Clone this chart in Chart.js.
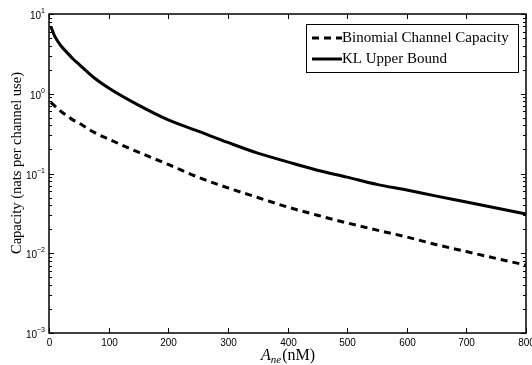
<!DOCTYPE html>
<html>
<head>
<meta charset="utf-8">
<script src="https://cdn.jsdelivr.net/npm/chart.js@4/dist/chart.umd.min.js"></script>
<style>
  html, body { margin: 0; padding: 0; background: #fff; }
  #wrap { width: 532px; height: 365px; }
</style>
</head>
<body>
<div id="wrap"><canvas id="capacity-chart" width="532" height="365"></canvas></div>
<script>
        // Concentration samples (nM)
        const aNe = [3, 10, 20, 30, 40, 50, 75, 100, 150, 200, 250, 300, 350, 400, 450, 500, 550, 600, 650, 700, 750, 800];

        // Capacity values (nats per channel use)
        const binomialCapacity = [0.78, 0.70, 0.60, 0.53, 0.47, 0.43, 0.33, 0.27, 0.185, 0.13, 0.09, 0.066, 0.050, 0.038, 0.030, 0.024, 0.0195, 0.016, 0.0128, 0.0105, 0.0086, 0.0071];
        const klUpperBound = [7.0, 5.2, 4.0, 3.3, 2.75, 2.35, 1.6, 1.18, 0.72, 0.47, 0.34, 0.245, 0.18, 0.14, 0.11, 0.09, 0.073, 0.062, 0.052, 0.044, 0.037, 0.031];

        // Axis ticks
        const xTicks = [0, 100, 200, 300, 400, 500, 600, 700, 800];
        const yExponents = [1, 0, -1, -2, -3];

        const seriesNames = ['Binomial Channel Capacity', 'KL Upper Bound'];

        const toPoints = (ys) => aNe.map((x, i) => ({ x: x, y: ys[i] }));

        const serif = '"Liberation Serif", "DejaVu Serif", serif';
        const sans = '"Liberation Sans", Arial, sans-serif';

        // Draws the boxed axes, inward ticks, labels and legend
        const matlabAxes = {
            id: 'matlabAxes',
            afterDatasetsDraw(chart) {
                const ctx = chart.ctx;
                const area = chart.chartArea;
                const xs = chart.scales.x;
                const ys = chart.scales.y;
                ctx.save();
                ctx.strokeStyle = '#000';
                ctx.fillStyle = '#000';

                // frame
                ctx.lineWidth = 1.5;
                ctx.strokeRect(area.left, area.top, area.right - area.left, area.bottom - area.top);
                ctx.lineWidth = 1;

                // x ticks, top and bottom
                ctx.font = '10px ' + sans;
                ctx.textAlign = 'center';
                ctx.textBaseline = 'top';
                xTicks.forEach(v => {
                    const px = Math.round(xs.getPixelForValue(v)) + 0.5;
                    ctx.beginPath();
                    ctx.moveTo(px, area.bottom);
                    ctx.lineTo(px, area.bottom - 5);
                    ctx.moveTo(px, area.top);
                    ctx.lineTo(px, area.top + 5);
                    ctx.stroke();
                    ctx.fillText(String(v), px, area.bottom + 5);
                });

                // y ticks (log), left and right
                yExponents.forEach(e => {
                    const py = Math.round(ys.getPixelForValue(Math.pow(10, e))) + 0.5;
                    ctx.beginPath();
                    ctx.moveTo(area.left, py);
                    ctx.lineTo(area.left + 5, py);
                    ctx.moveTo(area.right, py);
                    ctx.lineTo(area.right - 5, py);
                    ctx.stroke();
                    if (e > -3) {
                        for (let m = 2; m <= 9; m++) {
                            const my = Math.round(ys.getPixelForValue(m * Math.pow(10, e - 1))) + 0.5;
                            ctx.beginPath();
                            ctx.moveTo(area.left, my);
                            ctx.lineTo(area.left + 3, my);
                            ctx.moveTo(area.right, my);
                            ctx.lineTo(area.right - 3, my);
                            ctx.stroke();
                        }
                    }
                    // label 10^e
                    const exp = String(e).replace('-', '\u2212');
                    ctx.font = '7px ' + sans;
                    const ew = ctx.measureText(exp).width;
                    ctx.textAlign = 'right';
                    ctx.textBaseline = 'alphabetic';
                    const right = area.left - 4;
                    ctx.fillText(exp, right, py - 2);
                    ctx.font = '10px ' + sans;
                    ctx.fillText('10', right - ew, py + 4);
                });

                // y title
                ctx.save();
                ctx.translate(17, 163);
                ctx.rotate(-Math.PI / 2);
                ctx.font = '14.5px ' + serif;
                ctx.textAlign = 'center';
                ctx.textBaseline = 'middle';
                ctx.fillText('Capacity (nats per channel use)', 0, 0);
                ctx.restore();

                // x title: A_ne(nM)
                ctx.textBaseline = 'alphabetic';
                ctx.textAlign = 'left';
                ctx.font = 'italic 16px ' + serif;
                const wA = ctx.measureText('A').width;
                ctx.font = 'italic 11px ' + serif;
                const wSub = ctx.measureText('ne').width;
                ctx.font = '16px ' + serif;
                const wUnit = ctx.measureText('(nM)').width;
                let tx = (area.left + area.right) / 2 - (wA + wSub + wUnit) / 2;
                const base = 360;
                ctx.font = 'italic 16px ' + serif;
                ctx.fillText('A', tx, base);
                tx += wA;
                ctx.font = 'italic 11px ' + serif;
                ctx.fillText('ne', tx, base + 3);
                tx += wSub + 1;
                ctx.font = '16px ' + serif;
                ctx.fillText('(nM)', tx, base);

                // legend
                const lx = 306, ly = 24, lw = 212, lh = 48;
                ctx.fillStyle = '#fff';
                ctx.fillRect(lx, ly, lw, lh);
                ctx.strokeStyle = '#000';
                ctx.lineWidth = 1;
                ctx.strokeRect(lx + 0.5, ly + 0.5, lw, lh);
                ctx.fillStyle = '#000';
                ctx.font = '15px ' + serif;
                ctx.textBaseline = 'middle';
                chart.data.datasets.forEach((ds, i) => {
                    const rowY = ly + 14 + i * 21;
                    ctx.beginPath();
                    ctx.lineWidth = ds.borderWidth;
                    ctx.setLineDash(ds.borderDash || []);
                    ctx.moveTo(lx + 6, rowY);
                    ctx.lineTo(lx + 36, rowY);
                    ctx.stroke();
                    ctx.setLineDash([]);
                    ctx.fillText(ds.label, lx + 36, rowY);
                });
                ctx.restore();
            }
        };

        const capacityChart = new Chart(document.getElementById('capacity-chart'), {
            type: 'line',
            data: {
                datasets: [{
                    label: seriesNames[0],
                    data: toPoints(binomialCapacity),
                    borderColor: '#000',
                    borderWidth: 3,
                    borderDash: [7, 5],
                    pointRadius: 0,
                    cubicInterpolationMode: 'monotone',
                    fill: false
                }, {
                    label: seriesNames[1],
                    data: toPoints(klUpperBound),
                    borderColor: '#000',
                    borderWidth: 3,
                    pointRadius: 0,
                    cubicInterpolationMode: 'monotone',
                    fill: false
                }]
            },
            options: {
                responsive: false,
                animation: false,
                devicePixelRatio: 1,
                layout: { padding: { left: 49, right: 6, top: 14, bottom: 32 } },
                plugins: {
                    legend: { display: false },
                    tooltip: { enabled: false }
                },
                scales: {
                    x: { type: 'linear', min: 0, max: 800, display: false },
                    y: { type: 'logarithmic', min: 0.001, max: 10, display: false }
                }
            },
            plugins: [matlabAxes]
        });
</script>
</body>
</html>
